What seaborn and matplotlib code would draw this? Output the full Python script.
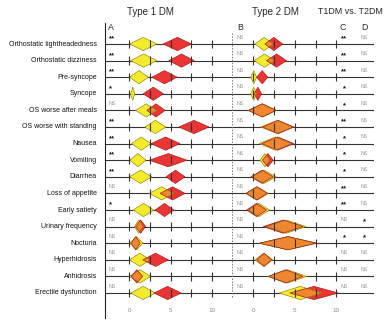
import numpy as np
import matplotlib
matplotlib.use("Agg")
import matplotlib.pyplot as plt
import seaborn as sns

symptoms = ["Orthostatic lightheadedness", "Orthostatic dizziness", "Pre-syncope",
            "Syncope", "OS worse after meals", "OS worse with standing", "Nausea",
            "Vomiting", "Diarrhea", "Loss of appetite", "Early satiety",
            "Urinary frequency", "Nocturia", "Hyperhidrosis", "Anhidrosis",
            "Erectile dysfunction"]

# Type 1 DM: interval (low, high) per symptom, yellow and red groups
t1_yellow_lo = [0.05, 0.2, 0.05, 0.2, 0.8, 1.9, 0.3, 0.1, 0.05, 2.45, 0.5, 0.65, 0.1, 0.05, 0.05, 0.2]
t1_yellow_hi = [3.35, 3.35, 2.35, 0.7, 3.35, 4.45, 2.65, 2.05, 2.75, 5.4, 3.0, 1.7, 1.7, 2.55, 2.6, 3.2]
t1_red_lo = [4.1, 4.8, 2.75, 1.7, 2.15, 6.0, 2.65, 2.45, 4.45, 3.75, 3.15, 0.8, 0.25, 1.65, 0.25, 3.0]
t1_red_hi = [7.55, 7.85, 5.8, 4.15, 4.35, 9.65, 6.15, 7.0, 6.75, 6.75, 5.4, 2.0, 1.35, 4.75, 1.65, 6.3]

# Type 2 DM
t2_yellow_lo = [0.2, 0.1, -0.3, -0.3, -0.6, 0.9, 0.7, 0.8, -0.2, -0.8, -0.6, 1.6, 0.7, 0.2, 1.8, 3.1]
t2_yellow_hi = [2.4, 2.6, 0.4, 0.4, 2.8, 4.8, 4.6, 2.0, 2.75, 1.8, 1.95, 6.35, 7.65, 2.35, 6.45, 8.25]
t2_red_lo = [1.4, 1.6, 0.4, 0.1, -0.6, 1.1, 1.0, 1.1, -0.3, -0.9, -0.8, 1.2, 0.72, 0.4, 1.8, 4.4]
t2_red_hi = [3.55, 4.0, 1.75, 1.0, 2.75, 4.9, 4.9, 2.4, 2.4, 1.7, 1.6, 6.0, 7.62, 2.2, 6.0, 10.25]

sig_a = ["**", "**", "**", "*", "NS", "**", "**", "**", "**", "NS", "*", "NS", "NS", "NS", "NS", "NS"]
sig_b = ["NS"] * 16
sig_c = ["**", "**", "**", "*", "*", "**", "*", "*", "*", "**", "**", "NS", "*", "NS", "NS", "NS"]
sig_d = ["NS"] * 11 + ["*", "*", "NS", "NS", "NS"]

tick_vals = [0, 2.5, 5, 7.5, 10]
tick_labels = ["0", "5", "10"]

sns.set_style("white")
plt.rcParams['font.family'] = ['Liberation Sans', 'DejaVu Sans']

YEL, YEL_EDGE = "#F3EB2C", "#8A8410"
RED, RED_EDGE = "#EC3434", "#9A1A1A"
H = 0.4  # diamond half height in row units

W, Hpx = 391, 322
fig = plt.figure(figsize=(W / 100, Hpx / 100), dpi=100)


def row_of(px):
    return (px - 44) / 16.6


bottom, top = 318, 23
axA = fig.add_axes([105 / W, 1 - bottom / Hpx, (232 - 105) / W, (bottom - top) / Hpx])
axB = fig.add_axes([232 / W, 1 - bottom / Hpx, (374 - 232) / W, (bottom - top) / Hpx])
axA.set_xlim((105 - 129) / 8.3, (232 - 129) / 8.3)
axB.set_xlim((232 - 253.3) / 8.3, (374 - 253.3) / 8.3)
for ax in (axA, axB):
    ax.set_ylim(row_of(bottom), row_of(top))
    ax.set_xticks([])
    ax.set_yticks([])
    ax.patch.set_alpha(0)
    for s in ax.spines.values():
        s.set_visible(False)
axA.spines["left"].set_visible(True)
axA.spines["left"].set_color("#222222")
axA.spines["left"].set_linewidth(0.8)
axB.plot([axB.get_xlim()[0]] * 2, [row_of(33), row_of(297)], color="#777777",
         lw=0.7, ls=(0, (1.5, 1.5)), clip_on=False)


def diamond(ax, lo, hi, y, **kw):
    c = (lo + hi) / 2
    return ax.fill([lo, c, hi, c], [y, y - H, y, y + H], **kw)[0]


def panel(ax, ylo, yhi, rlo, rhi):
    rows = np.arange(len(symptoms))
    for i in rows:
        ax.axhline(i, color="#333333", lw=0.8, zorder=1)
        diamond(ax, ylo[i], yhi[i], i, color=YEL, lw=0, zorder=2)
        rp = diamond(ax, rlo[i], rhi[i], i, color=RED, lw=0, zorder=3)
        ov = diamond(ax, ylo[i], yhi[i], i, color=YEL, alpha=0.45, lw=0, zorder=3.5)
        ov.set_clip_path(rp)
        diamond(ax, ylo[i], yhi[i], i, fill=False, edgecolor=YEL_EDGE, lw=0.45, zorder=3.6)
        diamond(ax, rlo[i], rhi[i], i, fill=False, edgecolor=RED_EDGE, lw=0.45, zorder=3.7)
        ax.vlines(tick_vals, i - 0.25, i + 0.25, color="#333333", lw=0.8, zorder=5)
    for v, lab in zip([0, 5, 10], tick_labels):
        ax.text(v, row_of(311), lab, ha="center", va="center", fontsize=4.5, color="#888888")


panel(axA, t1_yellow_lo, t1_yellow_hi, t1_red_lo, t1_red_hi)
panel(axB, t2_yellow_lo, t2_yellow_hi, t2_red_lo, t2_red_hi)


def sig_text(ax, x, i, s, ha):
    if s == "NS":
        ax.text(x, i - 0.42, s, ha=ha, va="center", fontsize=3.8, color="#999999")
    else:
        ax.text(x, i - 0.3, s, ha=ha, va="center", fontsize=5.5, color="#111111",
                fontweight="bold")


for i, name in enumerate(symptoms):
    axA.text(-8 / 127, i, name, transform=axA.get_yaxis_transform(), ha="right",
             va="center", fontsize=5.0, color="#111111")
    sig_text(axA, (108.5 - 129) / 8.3, i, sig_a[i], "left")
    sig_text(axB, (237 - 253.3) / 8.3, i, sig_b[i], "left")
    sig_text(axB, (344 - 253.3) / 8.3, i, sig_c[i], "center")
    sig_text(axB, (364 - 253.3) / 8.3, i, sig_d[i], "center")

fig.text(150 / W, 1 - 12 / Hpx, "Type 1 DM", ha="center", va="center", fontsize=7)
fig.text(275 / W, 1 - 12 / Hpx, "Type 2 DM", ha="center", va="center", fontsize=7)
fig.text(350 / W, 1 - 12 / Hpx, "T1DM vs. T2DM", ha="center", va="center", fontsize=6.4)
for lab, x in [("A", 111), ("B", 240), ("C", 343), ("D", 364)]:
    fig.text(x / W, 1 - 27 / Hpx, lab, ha="center", va="center", fontsize=6.3)

fig.savefig("out.png", dpi=100, facecolor="white")
